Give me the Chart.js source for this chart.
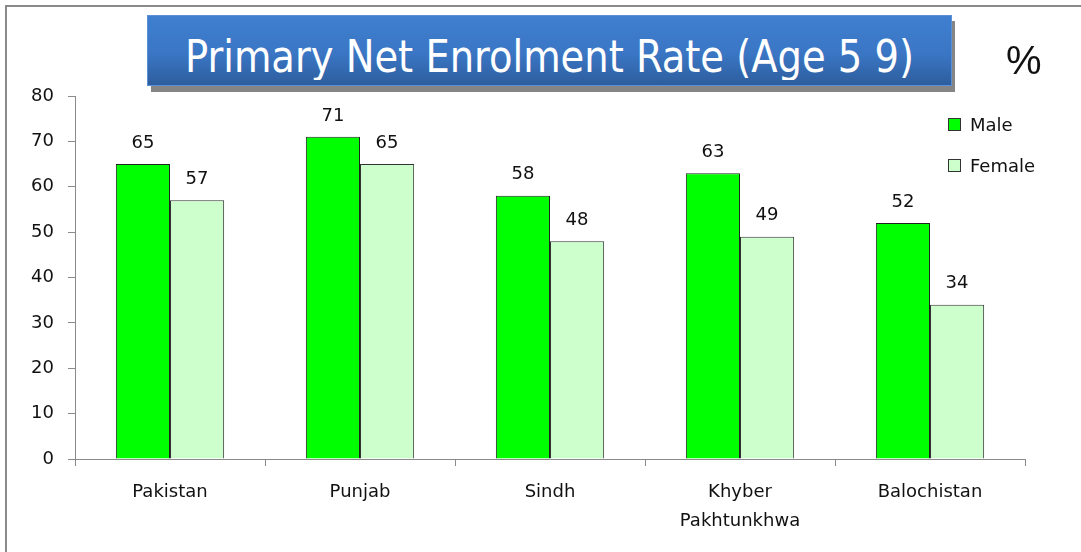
<!DOCTYPE html>
<html>
<head>
<meta charset="utf-8">
<script src="https://cdn.jsdelivr.net/npm/chart.js@4/dist/chart.umd.min.js"></script>
<style>
    html, body { margin: 0; padding: 0; background: #fff; }
    #wrap { position: relative; width: 1081px; height: 552px; overflow: hidden; }
    #frame {
        position: absolute; left: 5px; top: 5px; right: -5px; bottom: -5px;
        border-top: 2px solid #8a8a8a; border-left: 2px solid #8a8a8a;
    }
    #titleShadow {
        position: absolute; left: 151px; top: 21px; width: 804px; height: 71px;
        background: #858585;
    }
    #titleBox {
        position: absolute; left: 147px; top: 15px; width: 805px; height: 71px;
        background: linear-gradient(to bottom, #3f7fd0 0%, #3a76c4 55%, #2d5d9d 100%);
        border: 1px solid #5b8fd6; box-sizing: border-box;
    }
    #titleText {
        position: absolute; left: 147px; width: 805px; top: 30px; height: 50px; overflow: hidden;
        color: #fff; text-align: center; white-space: nowrap;
        font-family: "DejaVu Sans Condensed", sans-serif;
        font-size: 45px; line-height: 54px;
        transform: scaleX(0.95);
    }
    #pct {
        position: absolute; left: 1006px; top: 38px;
        font-family: "Liberation Sans", sans-serif; font-size: 40px; color: #111;
    }
    canvas { position: absolute; left: 0; top: 0; }
</style>
</head>
<body>
<div id="wrap">
    <div id="frame"></div>
    <canvas id="enrolChart" width="1081" height="552"></canvas>
    <div id="titleShadow"></div>
    <div id="titleBox"></div>
    <div id="titleText">Primary Net Enrolment Rate (Age 5 9)</div>
    <div id="pct">%</div>
</div>
<script>
const provinces = ["Pakistan", "Punjab", "Sindh", ["Khyber", "Pakhtunkhwa"], "Balochistan"];
const maleRate = [65, 71, 58, 63, 52];
const femaleRate = [57, 65, 48, 49, 34];
const yTicks = [0, 10, 20, 30, 40, 50, 60, 70, 80];

const FONT = "'DejaVu Sans', sans-serif";

// value labels above each bar
const barLabels = {
    id: "barLabels",
    afterDatasetsDraw(chart) {
        const ctx = chart.ctx;
        ctx.save();
        ctx.font = "18px " + FONT;
        ctx.fillStyle = "#111";
        ctx.textAlign = "center";
        ctx.textBaseline = "bottom";
        chart.data.datasets.forEach((ds, i) => {
            chart.getDatasetMeta(i).data.forEach((bar, j) => {
                ctx.fillText(String(ds.data[j]), bar.x, bar.y - 12);
            });
        });
        ctx.restore();
    }
};

// legend drawn at the right, like the original
const sideLegend = {
    id: "sideLegend",
    afterDraw(chart) {
        const ctx = chart.ctx;
        ctx.save();
        ctx.font = "18px " + FONT;
        ctx.textBaseline = "middle";
        chart.data.datasets.forEach((ds, i) => {
            const y = 125 + i * 41;
            ctx.fillStyle = ds.backgroundColor;
            ctx.fillRect(948.5, y - 6.5, 12, 12);
            ctx.strokeStyle = "#333";
            ctx.lineWidth = 1;
            ctx.strokeRect(948.5, y - 6.5, 12, 12);
            ctx.fillStyle = "#111";
            ctx.fillText(ds.label, 970, y + 1);
        });
        ctx.restore();
    }
};

new Chart(document.getElementById("enrolChart"), {
    type: "bar",
    data: {
        labels: provinces,
        datasets: [
            {
                label: "Male",
                data: maleRate,
                backgroundColor: "#00ff00",
                borderColor: "#222",
                borderWidth: 1
            },
            {
                label: "Female",
                data: femaleRate,
                backgroundColor: "#ccffcc",
                borderColor: "#333",
                borderWidth: 1
            }
        ]
    },
    options: {
        responsive: false,
        animation: false,
        layout: { padding: { top: 96, right: 56, left: 0, bottom: 0 } },
        datasets: {
            bar: { categoryPercentage: 0.57, barPercentage: 1.0 }
        },
        scales: {
            x: {
                afterFit: (s) => { s.height = 93; },
                grid: {
                    offset: true,
                    drawOnChartArea: false,
                    tickLength: 7,
                    color: "#8a8a8a"
                },
                border: { color: "#8a8a8a", width: 1 },
                ticks: {
                    color: "#111",
                    padding: 12,
                    font: { family: FONT, size: 18, lineHeight: 1.6 },
                    maxRotation: 0
                }
            },
            y: {
                min: 0,
                max: 80,
                afterFit: (s) => { s.width = 75; },
                afterBuildTicks: (s) => { s.ticks = yTicks.map((v) => ({ value: v })); },
                grid: {
                    drawOnChartArea: false,
                    tickLength: 7,
                    color: "#8a8a8a"
                },
                border: { color: "#8a8a8a", width: 1 },
                ticks: {
                    color: "#111",
                    padding: 14,
                    font: { family: FONT, size: 18 }
                }
            }
        },
        plugins: {
            legend: { display: false },
            title: { display: false },
            tooltip: { enabled: false }
        }
    },
    plugins: [barLabels, sideLegend]
});
</script>
</body>
</html>
